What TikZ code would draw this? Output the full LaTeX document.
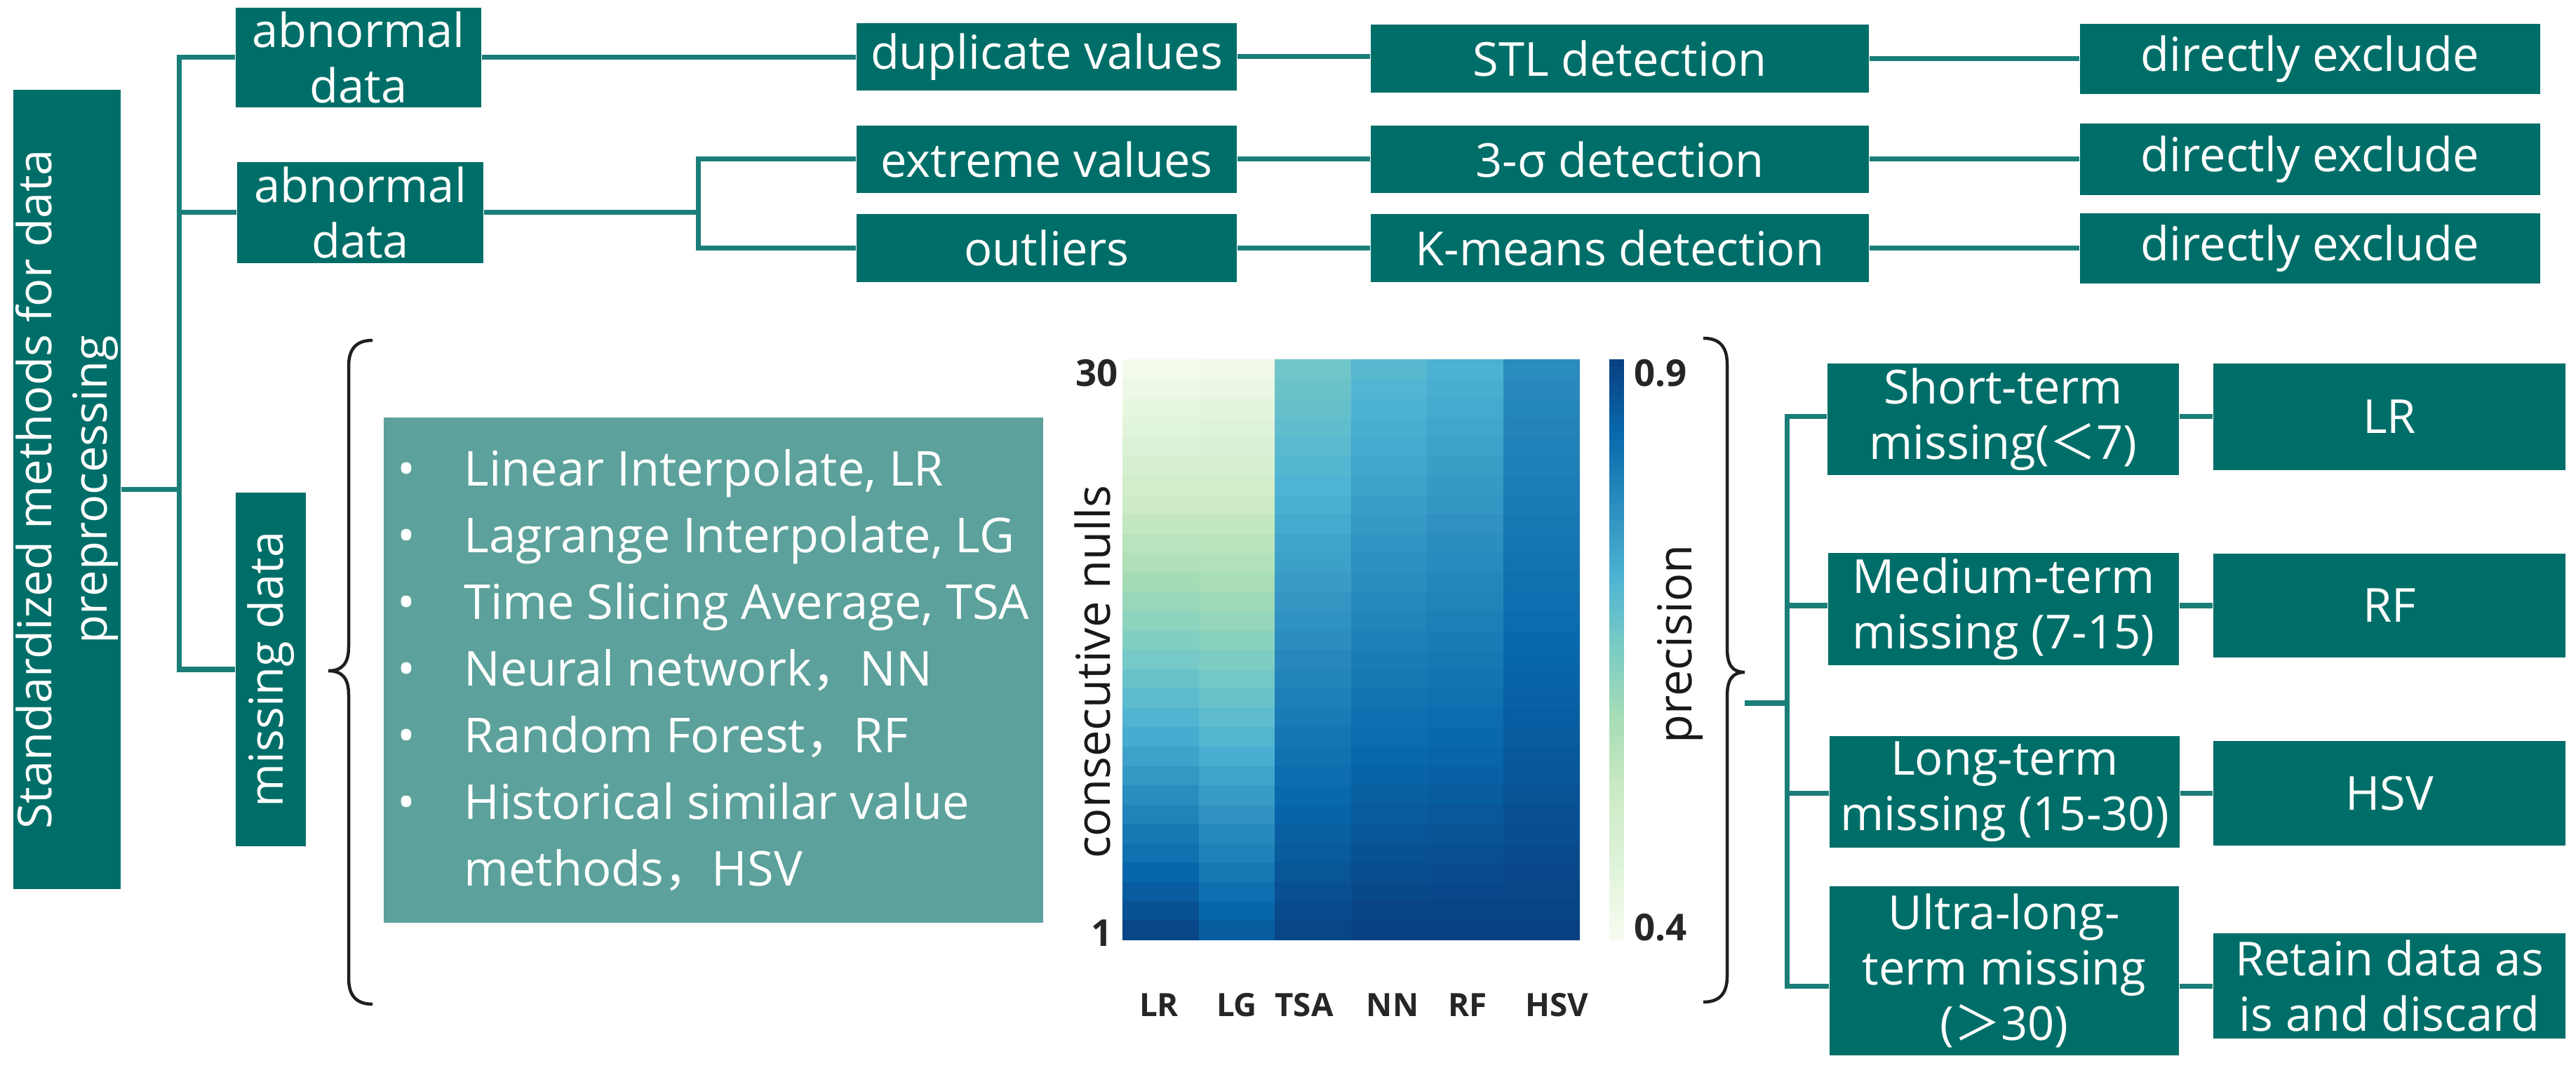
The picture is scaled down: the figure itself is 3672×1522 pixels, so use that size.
\documentclass[tikz,border=0pt]{standalone}
\usepackage{fontspec}
\setmainfont{Open Sans}
\newfontfamily\cjk{Noto Sans CJK SC}
\definecolor{tealbox}{HTML}{006E68}
\definecolor{tealline}{HTML}{1A7E78}
\definecolor{listbg}{HTML}{5CA19B}
\definecolor{gnbu0}{HTML}{F7FCF0}
\definecolor{gnbu1}{HTML}{E0F3DB}
\definecolor{gnbu2}{HTML}{CCEBC5}
\definecolor{gnbu3}{HTML}{A8DDB5}
\definecolor{gnbu4}{HTML}{7BCCC4}
\definecolor{gnbu5}{HTML}{4EB3D3}
\definecolor{gnbu6}{HTML}{2B8CBE}
\definecolor{gnbu7}{HTML}{0868AC}
\definecolor{gnbu8}{HTML}{084081}
\tikzset{
  wh/.style 2 args={minimum width=#1cm, minimum height=#2cm},
  tbox/.style={fill=tealbox, draw=none, text=white, inner sep=0pt, align=center,
               font=\fontsize{19}{22.5}\selectfont},
  boxtxt/.style={text=white, inner sep=0pt, align=center, font=\fontsize{19}{22.5}\selectfont},
  listbox/.style={fill=listbg, draw=none, text=white, inner sep=0pt, align=left,
               font=\fontsize{19.5}{27}\selectfont},
  conn/.style={draw=tealline, line width=0.07cm},
  bracepath/.style={draw=black!88, line width=0.045cm},
  numlab/.style={inner sep=0pt, text=black!85, font=\fontsize{15}{18}\selectfont\bfseries},
  collab/.style={inner sep=0pt, text=black!85, font=\fontsize{13}{16}\selectfont\bfseries},
  axtitle/.style={inner sep=0pt, text=black!90, font=\fontsize{19}{22}\selectfont},
}
\begin{document}
\begin{tikzpicture}[x=0.01cm,y=-0.01cm]
\fill[white] (0,0) rectangle (3672,1522);
\useasboundingbox (0,0) rectangle (3672,1522);

% ---------- left column ----------
\node[tbox, wh={1.53}{11.39}] (big) at (95.5,697.5) {};
\node[boxtxt, rotate=90] (bigtxt) at (big.center) {Standardized methods for data\\preprocessing};
\node[tbox, wh={3.50}{1.42}] (ab1) at (511,82) {abnormal\\data};
\node[tbox, wh={3.51}{1.43}] (ab2) at (513.5,303) {abnormal\\data};
\node[tbox, wh={1.00}{5.03}] (miss) at (386,954) {};
\node[boxtxt, rotate=90] (misstxt) at (miss.center) {missing data};

% ---------- abnormal rows ----------
\node[tbox, wh={5.42}{0.95}] (dup) at (1492,81) {duplicate values};
\node[tbox, wh={5.42}{0.96}] (ext) at (1492,227) {extreme values};
\node[tbox, wh={5.42}{0.97}] (outl) at (1492,353.5) {outliers};
\node[tbox, wh={7.10}{0.97}] (stl) at (2309,83.5) {STL detection};
\node[tbox, wh={7.10}{0.96}] (sig) at (2309,227) {3-σ detection};
\node[tbox, wh={7.10}{0.97}] (km) at (2309,353.5) {K-means detection};
\node[tbox, wh={6.56}{1.00}] (de1) at (3293,84) {directly exclude};
\node[tbox, wh={6.56}{1.02}] (de2) at (3293,227) {directly exclude};
\node[tbox, wh={6.56}{1.00}] (de3) at (3293,354) {directly exclude};

% ---------- connectors left ----------
\coordinate (tj) at (255,697.5);
\coordinate (fk) at (995,303);
\draw[conn] (big.east) -- (tj);
\draw[conn] (ab1.west) -| (tj) |- (miss.west);
\draw[conn] (ab2.west) -- (ab2.west -| tj);
\draw[conn] (ab1.east) -- (ab1.east -| dup.west);
\draw[conn] (ab2.east) -- (fk);
\draw[conn] (ext.west) -| (fk) |- (outl.west);
\draw[conn] (dup.east) -- (dup.east -| stl.west);
\draw[conn] (ext.east) -- (ext.east -| sig.west);
\draw[conn] (outl.east) -- (outl.east -| km.west);
\draw[conn] (stl.east) -- (stl.east -| de1.west);
\draw[conn] (sig.east) -- (sig.east -| de2.west);
\draw[conn] (km.east) -- (km.east -| de3.west);

% ---------- list box ----------
\node[listbox, wh={9.40}{7.20}] (list) at (1017,955) {%
\makebox[0.95cm][l]{•}Linear Interpolate, LR\\
\makebox[0.95cm][l]{•}Lagrange Interpolate, LG\\
\makebox[0.95cm][l]{•}Time Slicing Average, TSA\\
\makebox[0.95cm][l]{•}Neural network{\cjk ，}NN\\
\makebox[0.95cm][l]{•}Random Forest{\cjk ，}RF\\
\makebox[0.95cm][l]{•}Historical similar value\\
\hspace*{0.95cm}methods{\cjk ，}HSV};

% ---------- braces ----------
\coordinate (lbtip) at (468,956);
\coordinate (rbtip) at (2487,958);
\draw[bracepath] (531,485) .. controls (508,485) and (497,497) .. (497,522)
  -- (497,922) .. controls (497,945) and (488,956) .. (lbtip)
  .. controls (488,956) and (497,967) .. (497,990)
  -- (497,1394) .. controls (497,1419) and (508,1431) .. (531,1431);
\draw[bracepath] (2428,482) .. controls (2451,482) and (2462,494) .. (2462,519)
  -- (2462,924) .. controls (2462,947) and (2469,958) .. (rbtip)
  .. controls (2469,958) and (2462,969) .. (2462,992)
  -- (2462,1391) .. controls (2462,1416) and (2451,1428) .. (2428,1428);

% ---------- heatmap ----------
\def\hmx{1600}\def\hmy{512}\def\hmw{108.5}\def\hmh{27.567}
\foreach \hmc/\hmt/\hmb in {0/0.41/0.89,1/0.42/0.855,2/0.665/0.89,3/0.70/0.90,4/0.715/0.90,5/0.775/0.90}{
  \foreach \hmr in {1,...,30}{
    \pgfmathsetmacro\hmv{\hmt+(\hmb-\hmt)*(30-\hmr)/29}
    \pgfmathsetmacro\hms{max(0,min(7.999,(\hmv-0.4)/0.0625))}
    \pgfmathtruncatemacro\hmi{floor(\hms)}
    \pgfmathtruncatemacro\hmj{\hmi+1}
    \pgfmathtruncatemacro\hmp{round((\hms-\hmi)*100)}
    \colorlet{hmcell}{gnbu\hmj!\hmp!gnbu\hmi}
    \fill[hmcell] ({\hmx+\hmc*\hmw},{\hmy+(30-\hmr)*\hmh}) rectangle ++(\hmw+0.6,\hmh+0.6);
  }
}
% colour bar
\foreach \hmk in {0,...,79}{
  \pgfmathsetmacro\hms{min(7.999,(\hmk+0.5)/10)}
  \pgfmathtruncatemacro\hmi{floor(\hms)}
  \pgfmathtruncatemacro\hmj{\hmi+1}
  \pgfmathtruncatemacro\hmp{round((\hms-\hmi)*100)}
  \colorlet{hmcell}{gnbu\hmj!\hmp!gnbu\hmi}
  \fill[hmcell] (2294,{1339-(\hmk+1)*10.3375}) rectangle ++(21,10.9);
}
\node[numlab, anchor=east] (y30) at (1594,532) {30};
\node[numlab, anchor=east] (y1) at (1586,1330) {1};
\node[numlab, anchor=west] (c09) at (2329,532) {0.9};
\node[numlab, anchor=west] (c04) at (2329,1322) {0.4};
\node[collab] (xlr) at (1652,1432) {LR};
\node[collab] (xlg) at (1763,1432) {LG};
\node[collab] (xtsa) at (1859,1432) {TSA};
\node[collab] (xnn) at (1985,1432) {NN};
\node[collab] (xrf) at (2092,1432) {RF};
\node[collab] (xhsv) at (2219,1432) {HSV};
\node[axtitle, rotate=90] (ytitle) at (1557,958) {consecutive nulls};
\node[axtitle, rotate=90] (ctitle) at (2395,918) {precision};

% ---------- right tree ----------
\node[tbox, wh={5.01}{1.59}] (st) at (2855.5,597.5) {Short-term\\missing({\cjk ＜}7)};
\node[tbox, wh={5.00}{1.60}] (mt) at (2856,868) {Medium-term\\missing (7-15)};
\node[tbox, wh={4.99}{1.59}] (lt) at (2857.5,1128.5) {Long-term\\missing (15-30)};
\node[tbox, wh={4.98}{2.41}] (ut) at (2857,1383.5) {Ultra-long-\\term missing\\({\cjk ＞}30)};
\node[tbox, wh={5.02}{1.52}] (mlr) at (3406,594) {LR};
\node[tbox, wh={5.02}{1.48}] (mrf) at (3406,863) {RF};
\node[tbox, wh={5.02}{1.49}] (mhsv) at (3406,1130.5) {HSV};
\node[tbox, wh={5.02}{1.50}] (ret) at (3406,1405) {Retain data as\\is and discard};

\coordinate (bt) at (2487,1002);
\coordinate (rj) at (2547,1002);
\draw[conn] (bt) -- (rj);
\draw[conn] (st.west |- mlr.west) -| (rj) |- (ut.west |- ret.west);
\draw[conn] (mt.west |- mrf.west) -- (mt.west |- mrf.west -| rj);
\draw[conn] (lt.west |- mhsv.west) -- (lt.west |- mhsv.west -| rj);
\draw[conn] (st.east |- mlr.west) -- (mlr.west);
\draw[conn] (mt.east |- mrf.west) -- (mrf.west);
\draw[conn] (lt.east |- mhsv.west) -- (mhsv.west);
\draw[conn] (ut.east |- ret.west) -- (ret.west);
\end{tikzpicture}
\end{document}
